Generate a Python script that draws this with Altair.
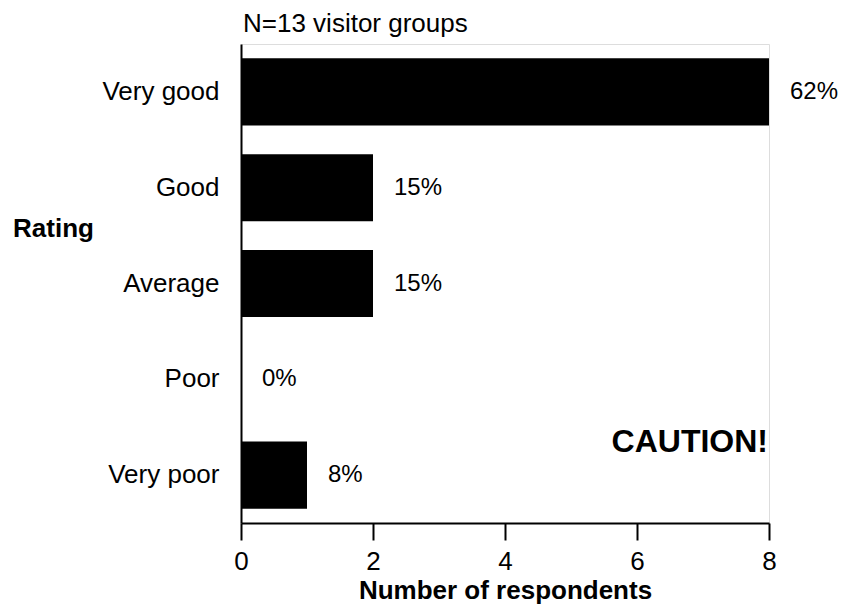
import altair as alt
import pandas as pd

ratings = ["Very good", "Good", "Average", "Poor", "Very poor"]
counts = [8, 2, 2, 0, 1]
pct_labels = ["62%", "15%", "15%", "0%", "8%"]
x_ticks = [0, 2, 4, 6, 8]
subtitle = "N=13 visitor groups"
caution_text = "CAUTION!"

df = pd.DataFrame({"Rating": ratings, "Count": counts, "Pct": pct_labels})

FONT = "Liberation Sans"

y_enc = alt.Y(
    "Rating:N",
    sort=ratings,
    scale=alt.Scale(paddingInner=0.3, paddingOuter=0.15),
    axis=alt.Axis(
        title="Rating",
        titleAngle=0,
        titleAlign="center",
        titleBaseline="middle",
        titleX=-188,
        titleY=184,
        titleFont=FONT,
        titleFontSize=26,
        titleFontWeight="bold",
        titleColor="black",
        labelFont=FONT,
        labelFontSize=26,
        labelColor="black",
        labelPadding=22,
        ticks=False,
        domainColor="black",
        domainWidth=2,
    ),
)

bars = alt.Chart(df).mark_bar(color="black").encode(
    x=alt.X(
        "Count:Q",
        scale=alt.Scale(domain=[0, 8], nice=False),
        axis=alt.Axis(
            title="Number of respondents",
            values=x_ticks,
            format="d",
            grid=False,
            titleFont=FONT,
            titleFontSize=26,
            titleFontWeight="bold",
            titleColor="black",
            titleBaseline="alphabetic",
            titleY=75,
            labelFont=FONT,
            labelFontSize=26,
            labelColor="black",
            labelPadding=8,
            labelFlush=False,
            tickSize=17,
            tickWidth=2,
            tickColor="black",
            domainColor="black",
            domainWidth=2,
        ),
    ),
    y=y_enc,
)

labels = alt.Chart(df).mark_text(
    align="left", baseline="middle", dx=21, font=FONT, fontSize=24, color="black"
).encode(
    x="Count:Q",
    y=alt.Y("Rating:N", sort=ratings),
    text="Pct:N",
)

caution_df = pd.DataFrame({"x": [8], "t": [caution_text]})
caution = alt.Chart(caution_df).mark_text(
    align="right", baseline="alphabetic", font=FONT, fontSize=32,
    fontWeight="bold", color="black", dx=-1
).encode(
    x="x:Q",
    y=alt.value(408),
    text="t:N",
)

title_df = pd.DataFrame({"x": [0], "t": [subtitle]})
title_mark = alt.Chart(title_df).mark_text(
    align="left", baseline="alphabetic", font=FONT, fontSize=26,
    color="black", dx=2
).encode(
    x="x:Q",
    y=alt.value(-12),
    text="t:N",
)

chart = (
    alt.layer(bars, labels, caution, title_mark)
    .properties(
        width=528,
        height=479,
        autosize=alt.AutoSizeParams(type="none"),
        padding={"left": 233, "top": 36, "right": 70, "bottom": 81},
    )
    .configure_view(stroke=None)
    .configure(background="white")
)

chart.save("out.html", embed_options={"renderer": "svg", "actions": False})
